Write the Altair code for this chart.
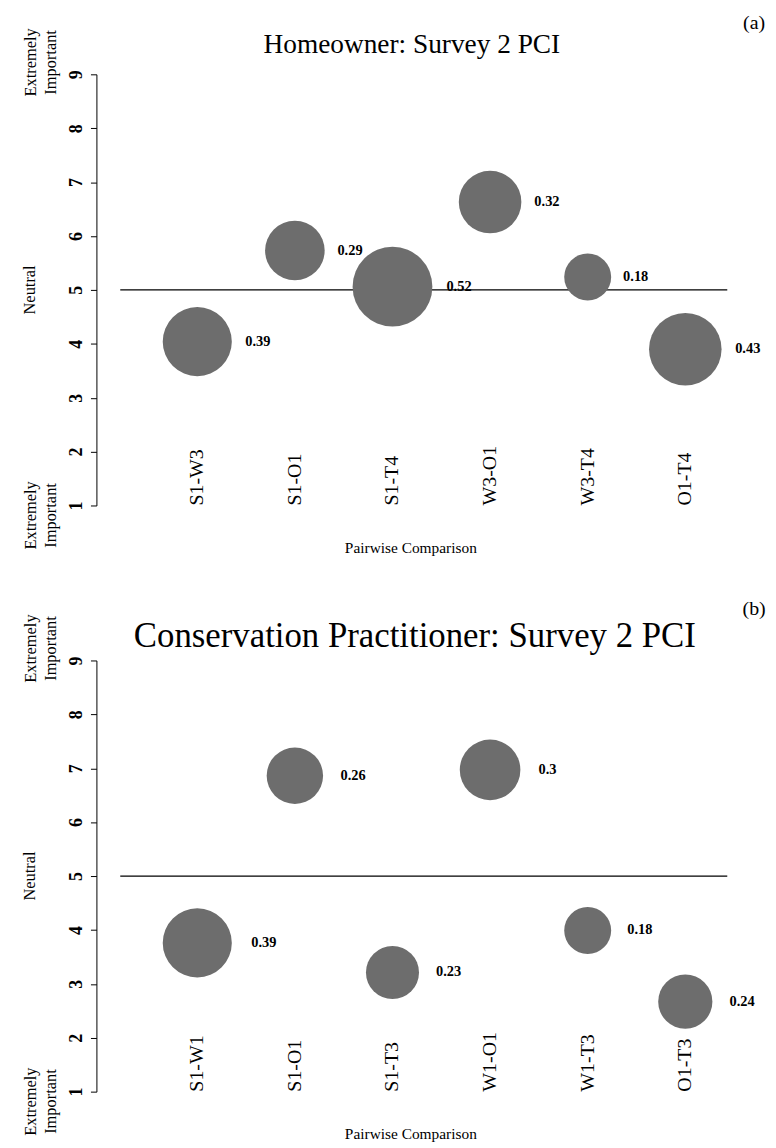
import altair as alt
import pandas as pd

FONT = "Liberation Serif"

# Panel (a) data
title_a = "Homeowner: Survey 2 PCI"
cats_a = ["S1-W3", "S1-O1", "S1-T4", "W3-O1", "W3-T4", "O1-T4"]
mean_a = [4.04, 5.73, 5.06, 6.63, 5.24, 3.90]
weight_a = [0.39, 0.29, 0.52, 0.32, 0.18, 0.43]

# Panel (b) data
title_b = "Conservation Practitioner: Survey 2 PCI"
cats_b = ["S1-W1", "S1-O1", "S1-T3", "W1-O1", "W1-T3", "O1-T3"]
mean_b = [3.76, 6.86, 3.21, 6.97, 3.99, 2.67]
weight_b = [0.39, 0.26, 0.23, 0.30, 0.18, 0.24]

y_ticks = [1, 2, 3, 4, 5, 6, 7, 8, 9]
neutral = [5]

W, H = 611, 434
XDOM = [0.211, 6.43]
PX_PER_UNIT = W / (XDOM[1] - XDOM[0])
RMAX = 45.3


def panel(title, tag, cats, means, weights, title_size, title_dx, title_y):
    df = pd.DataFrame({"idx": list(range(1, len(cats) + 1)), "cat": cats,
                       "mean": means, "w": weights})
    vmax = max(weights)
    xscale = alt.Scale(domain=XDOM, nice=False, zero=False)
    yscale = alt.Scale(domain=[1, 9], nice=False, zero=False)
    xaxis = alt.Axis(labels=False, ticks=False, domain=False, grid=False,
                     title="Pairwise Comparison", titlePadding=35,
                     titleX=292, titleAlign="center")
    yaxis = alt.Axis(values=y_ticks, format="d", grid=False, title=None,
                     offset=24, tickSize=6, labelAngle=270,
                     labelAlign="center", labelBaseline="middle",
                     labelPadding=14)
    base = alt.Chart(df)

    circles = base.mark_circle(color="#6d6d6d", opacity=1).encode(
        x=alt.X("idx:Q", scale=xscale, axis=xaxis, title="Pairwise Comparison"),
        y=alt.Y("mean:Q", scale=yscale, axis=yaxis, title=None),
        size=alt.Size("w:Q", scale=alt.Scale(domain=[0, vmax], range=[0, 3.14159 * RMAX * RMAX]),
                      legend=None),
    )

    vlabels = base.transform_calculate(
        lx=f"datum.idx + ({RMAX}*sqrt(datum.w/{vmax}) + 9)/{PX_PER_UNIT}"
    ).mark_text(align="left", baseline="middle", fontSize=14.5, fontWeight="bold",
                font=FONT, color="black").encode(
        x=alt.X("lx:Q", scale=xscale, axis=xaxis, title="Pairwise Comparison"),
        y=alt.Y("mean:Q", scale=yscale, axis=yaxis, title=None),
        text=alt.Text("w:Q", format="~g"),
    )

    catlabels = base.mark_text(angle=270, align="left", baseline="middle",
                               fontSize=20, font=FONT, color="black").encode(
        x=alt.X("idx:Q", scale=xscale, axis=xaxis, title="Pairwise Comparison"),
        y=alt.YDatum(1, scale=yscale, axis=yaxis, title=None),
        text="cat:N",
    )

    rule = alt.Chart(pd.DataFrame({"n": neutral})).mark_rule(
        color="black", strokeWidth=1.3).encode(
        y=alt.Y("n:Q", scale=yscale, axis=yaxis, title=None))

    one = pd.DataFrame({"a": [0]})
    txt = dict(font=FONT, color="black")
    title_lab = alt.Chart(one).mark_text(
        text=title, align="center", baseline="middle", fontSize=title_size, **txt).encode(
        x=alt.value(W / 2 + title_dx), y=alt.value(title_y))
    top_lab = alt.Chart(one).mark_text(
        text=["Extremely", "Important"], angle=270, align="center", baseline="middle",
        fontSize=16.5, lineHeight=20, **txt).encode(
        x=alt.value(-90), y=alt.value(-12))
    bot_lab = alt.Chart(one).mark_text(
        text=["Extremely", "Important"], angle=270, align="center", baseline="middle",
        fontSize=16.5, lineHeight=20, **txt).encode(
        x=alt.value(-90), y=alt.value(H + 10))
    neu_lab = alt.Chart(one).mark_text(
        text="Neutral", angle=270, align="center", baseline="middle",
        fontSize=16.5, **txt).encode(
        x=alt.value(-91), y=alt.value(H / 2))
    tag_lab = alt.Chart(one).mark_text(
        text=tag, align="center", baseline="middle", fontSize=20, **txt).encode(
        x=alt.value(638), y=alt.value(-52))

    return alt.layer(rule, circles, vlabels, catlabels, title_lab, top_lab, bot_lab,
                     neu_lab, tag_lab).properties(width=W, height=H)


chart = alt.vconcat(
    panel(title_a, "(a)", cats_a, mean_a, weight_a, 27.5, -12, -29),
    panel(title_b, "(b)", cats_b, mean_b, weight_b, 35, -9, -25),
    spacing=43,
).properties(
    padding={"left": 14, "top": 1, "right": 2, "bottom": 5}
).configure(font=FONT).configure_view(stroke=None).configure_axis(
    labelFont=FONT, titleFont=FONT, labelFontSize=18, labelFontWeight="bold",
    titleFontSize=15.5, titleFontWeight="normal", labelColor="black",
    titleColor="black", domainColor="black", tickColor="black"
)

chart.save("out.html", embed_options={"renderer": "svg", "actions": False})
